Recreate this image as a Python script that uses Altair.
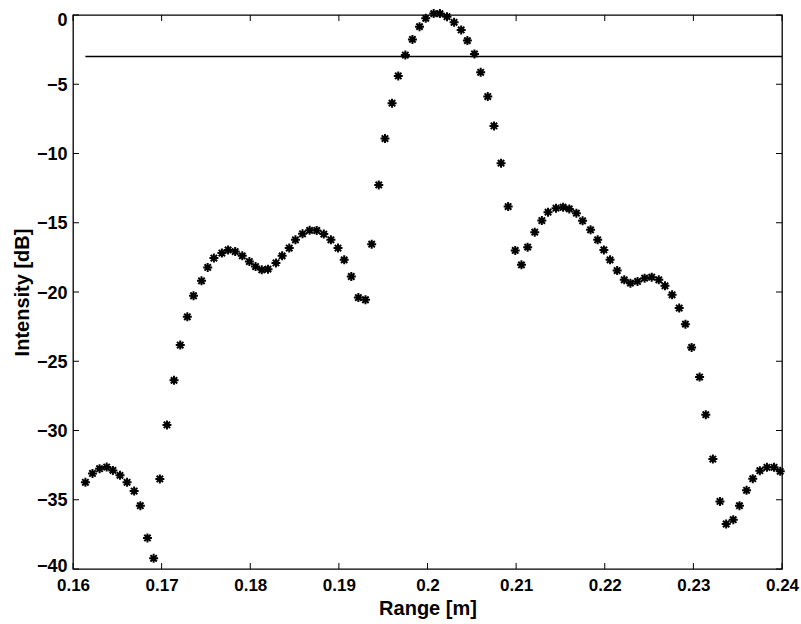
import altair as alt
import pandas as pd

# --- data -------------------------------------------------------------------
range_m = [
    0.1614, 0.1622, 0.1630, 0.1638, 0.1645, 0.1653, 0.1661, 0.1669, 0.1676, 0.1684,
    0.1691, 0.1698, 0.1706, 0.1714, 0.1721, 0.1729,
    0.1736, 0.1745, 0.1752, 0.1759, 0.1768, 0.1775, 0.1783, 0.1791, 0.1799, 0.1806,
    0.1813, 0.1820, 0.1829, 0.1836, 0.1844, 0.1851, 0.1859, 0.1867,
    0.1875, 0.1883, 0.1891, 0.1899, 0.1906, 0.1914, 0.1922, 0.1930, 0.1937, 0.1945,
    0.1952, 0.1960, 0.1967, 0.1975, 0.1983, 0.1991, 0.1998, 0.2007, 0.2014, 0.2022,
    0.2030, 0.2038, 0.2045, 0.2053, 0.2060, 0.2068, 0.2075, 0.2083, 0.2091, 0.2099,
    0.2106, 0.2113, 0.2121, 0.2129, 0.2136,
    0.2145, 0.2153, 0.2160, 0.2168, 0.2175, 0.2184, 0.2192, 0.2199, 0.2206, 0.2214,
    0.2222, 0.2229, 0.2237, 0.2245, 0.2253, 0.2261, 0.2268, 0.2276, 0.2284,
    0.2291, 0.2298, 0.2307, 0.2314, 0.2322, 0.2330, 0.2337, 0.2345, 0.2352, 0.2360,
    0.2367, 0.2375, 0.2383, 0.2391, 0.2398,
]
intensity_db = [
    -33.74, -33.10, -32.76, -32.64, -32.88, -33.24, -33.74, -34.37, -35.43, -37.76,
    -39.23, -33.50, -29.60, -26.38, -23.83, -21.79,
    -20.27, -19.19, -18.23, -17.55, -17.19, -16.96, -17.08, -17.39, -17.80, -18.16,
    -18.40, -18.35, -17.90, -17.39, -16.83, -16.23, -15.80, -15.55,
    -15.56, -15.82, -16.23, -16.83, -17.68, -18.88, -20.40, -20.56, -16.55, -12.27,
    -8.92, -6.37, -4.40, -2.89, -1.76, -0.84, -0.24, 0.10, 0.10, -0.12,
    -0.53, -1.08, -1.85, -2.81, -4.14, -5.89, -8.01, -10.70, -13.83, -17.00,
    -18.04, -16.76, -15.68, -14.84, -14.24,
    -13.95, -13.88, -14.00, -14.31, -14.86, -15.51, -16.23, -16.96, -17.68, -18.45,
    -19.12, -19.36, -19.24, -19.00, -18.93, -19.12, -19.55, -20.20, -21.16,
    -22.32, -24.00, -26.14, -28.86, -32.06, -35.12, -36.75, -36.44, -35.43, -34.32,
    -33.48, -32.90, -32.66, -32.66, -32.95,
]
threshold_db = [-3.0]
threshold_start = [0.1614]
threshold_end = [0.24]

x_ticks = [0.16, 0.17, 0.18, 0.19, 0.20, 0.21, 0.22, 0.23, 0.24]
y_ticks = [-40, -35, -30, -25, -20, -15, -10, -5, 0]

# --- layout ----------------------------------------------------------------
W, H = 709, 554
TICK = 6
FONT = "Liberation Sans"

pts = pd.DataFrame({"x": range_m, "y": intensity_db})
thr = pd.DataFrame({"x": threshold_start, "x2": threshold_end, "y": threshold_db})
xt = pd.DataFrame({"x": x_ticks})
yt = pd.DataFrame({"y": y_ticks})

xscale = alt.Scale(domain=[0.16, 0.24], nice=False, zero=False)
yscale = alt.Scale(domain=[-40, 0], nice=False, zero=False)

x_axis = alt.Axis(
    values=x_ticks, format=".2~f", ticks=False, tickSize=0, domain=False, grid=False,
    labelFont=FONT, labelFontSize=17, labelFontWeight="bold", labelColor="black",
    labelPadding=8, labelFlush=False,
    title="Range [m]", titleFont=FONT, titleFontSize=20, titleFontWeight="bold",
    titleColor="black", titleY=45, titleBaseline="alphabetic",
)
y_axis = alt.Axis(
    values=y_ticks, format="d", ticks=False, tickSize=0, domain=False, grid=False,
    labelFont=FONT, labelFontSize=18, labelFontWeight="bold", labelColor="black",
    labelPadding=6, labelOffset=1, labelFlush=True, labelFlushOffset=5,
    title="Intensity [dB]", titleFont=FONT, titleFontSize=20, titleFontWeight="bold",
    titleColor="black", titleX=-51, titleY=H / 2, titleAngle=270,
    titleAlign="center", titleBaseline="middle",
)

asterisk = ("M-1,0L1,0M0,-1L0,1M-0.7071,-0.7071L0.7071,0.7071"
            "M-0.7071,0.7071L0.7071,-0.7071")

points = alt.Chart(pts).mark_point(
    shape=asterisk, size=81, filled=False, stroke="black", strokeWidth=2, opacity=1
).encode(
    x=alt.X("x:Q", scale=xscale, axis=x_axis),
    y=alt.Y("y:Q", scale=yscale, axis=y_axis),
)

threshold = alt.Chart(thr).mark_rule(color="black", strokeWidth=1.5).encode(
    x=alt.X("x:Q", scale=xscale, axis=x_axis),
    x2="x2:Q",
    y=alt.Y("y:Q", scale=yscale, axis=y_axis),
)

top_ticks = alt.Chart(xt).mark_rule(color="black", strokeWidth=1).encode(
    x=alt.X("x:Q", scale=xscale, axis=x_axis),
    y=alt.value(0), y2=alt.value(TICK),
)
bottom_ticks = alt.Chart(xt).mark_rule(color="black", strokeWidth=1).encode(
    x=alt.X("x:Q", scale=xscale, axis=x_axis),
    y=alt.value(H), y2=alt.value(H - TICK),
)
left_ticks = alt.Chart(yt).mark_rule(color="black", strokeWidth=1).encode(
    y=alt.Y("y:Q", scale=yscale, axis=y_axis),
    x=alt.value(0), x2=alt.value(TICK),
)
right_ticks = alt.Chart(yt).mark_rule(color="black", strokeWidth=1).encode(
    y=alt.Y("y:Q", scale=yscale, axis=y_axis),
    x=alt.value(W), x2=alt.value(W - TICK),
)

chart = alt.layer(
    threshold, top_ticks, bottom_ticks, left_ticks, right_ticks, points
).properties(
    width=W, height=H,
    autosize=alt.AutoSizeParams(type="none"),
    padding={"left": 73, "top": 15, "right": 19, "bottom": 55},
    background="white",
).configure_view(
    stroke="black", strokeWidth=1.3, fill="white"
)

chart.save("out.html", embed_options={"renderer": "svg", "actions": False})
